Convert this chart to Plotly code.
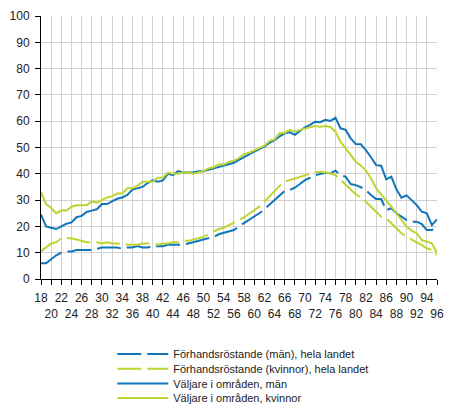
import plotly.graph_objects as go

# ages on the x axis
ages = list(range(18, 97))

# Förhandsröstande (män), hela landet
men_advance = [6, 6, 7.5, 9, 10, 10.5, 10.5, 11, 11, 11, 11, 11.5, 12, 12, 12, 12, 11.5, 12, 12, 12.5,
               12, 12, 12.5, 12.5, 12.5, 13, 13, 13, 13, 13.5, 14, 14.5, 15, 15.5, 16, 17, 17.5, 18,
               18.6, 20, 21.2, 22.5, 23.7, 25, 26.5, 28.2, 30, 31.9, 33.5, 33.8, 34.7, 36.1, 37.6,
               38.5, 39.5, 39.9, 40.4, 40.2, 41.2, 39.5, 38.9, 36.1, 35.7, 34.9, 33.8, 31.9, 30.4,
               30.4, 26.2, 26.9, 25, 23.7, 22.4, 21.8, 21.8, 20.9, 18.6, 18.6, 20.5]

# Förhandsröstande (kvinnor), hela landet
women_advance = [10.5, 12, 13.5, 14, 15.5, 15.5, 15.5, 15, 14.5, 14, 14, 14, 13.5, 14, 13.5, 13.5,
                 13.5, 13, 13, 13, 13.5, 13.5, 13.5, 13, 13.5, 13.5, 14, 14, 14.5, 14.5, 15, 15.5,
                 16, 17, 18, 19, 19.5, 20.5, 21.4, 22.5, 23.4, 24.8, 26.2, 27.5, 29.4, 31.5, 33.2,
                 35.4, 37, 37.6, 38.3, 38.9, 39.5, 40.2, 40.6, 40.8, 40.4, 40.2, 39.5, 37.6, 36.1,
                 34.1, 32.2, 30.9, 29.4, 27.5, 25.6, 23.7, 23.1, 21.2, 19.3, 17.4, 16.1, 15.1, 14.2,
                 12.9, 11.7, 11, 9.1]

# Väljare i områden, män
men_area = [24.5, 20, 19.5, 19, 20, 21, 21.5, 23.5, 24, 25.5, 26, 26.5, 28.5, 28.5, 29.5, 30.5, 31,
            32, 34, 34.5, 35, 36.5, 37.5, 37, 37.5, 40, 39.5, 41, 40.5, 40.5, 40.5, 41, 41, 41.5,
            42, 42.5, 43, 43.5, 44.2, 45.3, 46.5, 47.4, 48.4, 49.3, 50.3, 51.8, 52.8, 54.2, 55.4,
            55.8, 54.8, 56.3, 57.7, 58.6, 59.8, 59.6, 60.5, 60.1, 61.3, 57.3, 56.7, 53.5, 51.3,
            51.2, 49, 46.3, 43.3, 43.1, 37.9, 38.9, 34.1, 30.9, 31.8, 30, 28.1, 25.6, 25, 20.5, 22.7]

# Väljare i områden, kvinnor
women_area = [33, 28.5, 27, 25, 26, 26, 27.5, 28, 28, 28, 29.5, 29, 30, 31, 31.5, 32.5, 32.5, 34.5,
              34.5, 35.5, 37, 37, 37, 38.5, 38.5, 40.5, 40, 40, 40.5, 40.5, 40, 40.5, 41, 42, 42.5,
              43.5, 43.5, 44.5, 45, 46, 47.5, 48, 48.8, 49.8, 50.7, 52.5, 53.1, 55.4, 55.6, 56.7,
              56, 56.7, 57.2, 57.9, 58.2, 57.9, 58.2, 57.8, 56, 52.2, 49.7, 47.1, 44.6, 43.1, 41.2,
              38.3, 34.5, 32.2, 30, 27.5, 25, 22.4, 19.9, 18.4, 17.4, 14.8, 14.2, 13.6, 9.8]

blue = "#0f76ba"
green = "#bdd431"

series = [
    ("Förhandsröstande (män), hela landet", men_advance, blue, "24px,6px", "legend"),
    ("Förhandsröstande (kvinnor), hela landet", women_advance, green, "24px,6px", "legend2"),
    ("Väljare i områden, män", men_area, blue, "solid", "legend3"),
    ("Väljare i områden, kvinnor", women_area, green, "solid", "legend4"),
]

fig = go.Figure()
for name, vals, color, dash, leg in series:
    fig.add_trace(go.Scatter(x=ages, y=vals, mode="lines", name=name, legend=leg,
                             line=dict(color=color, width=2, dash=dash)))

# two-row tick labels, alternating
tick_vals = list(range(18, 97, 2))
tick_text = [str(v) if (v - 18) % 4 == 0 else "<br>" + str(v) for v in tick_vals]

# one legend per entry so the rows sit closer together, as in the original;
# placed relative to the container so they don't push the plot margins
leg_style = dict(x=0.18, xanchor="left", yanchor="middle", yref="container",
                 font=dict(size=11), bgcolor="rgba(0,0,0,0)", itemwidth=51)
# page body has an 8px margin, so the figure is 16px smaller than the window
fig.update_layout(
    width=438, height=400,
    margin=dict(l=33, r=9, t=8, b=129),
    paper_bgcolor="white", plot_bgcolor="white",
    font=dict(family="Liberation Sans, Arial, sans-serif", size=12, color="#222222"),
    showlegend=True,
    legend=dict(y=0.135, **leg_style),
    legend2=dict(y=0.098, **leg_style),
    legend3=dict(y=0.061, **leg_style),
    legend4=dict(y=0.025, **leg_style),
)
fig.update_xaxes(range=[18, 96], tickvals=tick_vals, ticktext=tick_text, tickangle=0,
                 automargin=False, ticklabelstandoff=3,
                 showgrid=True, gridcolor="#d2d2d2", gridwidth=1,
                 showline=True, linecolor="#000000", linewidth=1,
                 ticks="outside", ticklen=5, tickcolor="#000000", zeroline=False)
fig.update_yaxes(range=[0, 100], dtick=10, automargin=False, ticklabelstandoff=3,
                 showgrid=True, gridcolor="#d2d2d2", gridwidth=1,
                 showline=True, linecolor="#000000", linewidth=1,
                 ticks="outside", ticklen=5, tickcolor="#000000", zeroline=False)

fig.write_html("out.html")
